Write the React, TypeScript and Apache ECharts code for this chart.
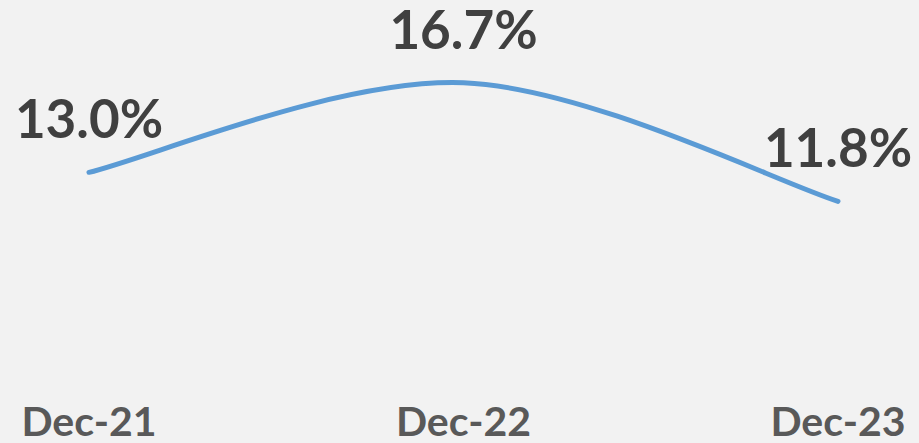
import React, { useEffect, useRef } from "react";
import * as echarts from "echarts";

const categories = ["Dec-21", "Dec-22", "Dec-23"];
const values = [13.0, 16.7, 11.8];

export default function App() {
  const ref = useRef<HTMLDivElement>(null);
  useEffect(() => {
    const chart = echarts.init(ref.current!, null, { renderer: "svg" });
    chart.setOption({
      animation: false,
      backgroundColor: "#f2f2f2",
      grid: { left: 89, right: 81, top: 3, bottom: 53 },
      xAxis: {
        type: "category",
        data: categories,
        boundaryGap: false,
        axisLine: { show: false },
        axisTick: { show: false },
        axisLabel: {
          color: "#595959",
          fontFamily: "Lato",
          fontWeight: "bold",
          fontSize: 41,
          lineHeight: 38,
          margin: 11,
        },
      },
      yAxis: {
        type: "value",
        min: 4,
        max: 20,
        show: false,
        splitLine: { show: false },
      },
      series: [
        {
          type: "custom",
          data: values.map((v, i) => [i, v]),
          encode: { x: 0, y: 1 },
          silent: true,
          renderItem: (params: any, api: any) => {
            if (params.dataIndex !== 0) return null;
            const pts = values.map((v, i) => api.coord([i, v]));
            const n = pts.length;
            const P = (k: number) => pts[Math.max(0, Math.min(n - 1, k))];
            let d = `M${pts[0][0]},${pts[0][1]}`;
            for (let i = 0; i < n - 1; i++) {
              const p0 = P(i - 1), p1 = P(i), p2 = P(i + 1), p3 = P(i + 2);
              const c1x = p1[0] + (p2[0] - p0[0]) / 6;
              const c1y = p1[1] + (p2[1] - p0[1]) / 6;
              const c2x = p2[0] - (p3[0] - p1[0]) / 6;
              const c2y = p2[1] - (p3[1] - p1[1]) / 6;
              d += ` C${c1x},${c1y} ${c2x},${c2y} ${p2[0]},${p2[1]}`;
            }
            return {
              type: "path",
              shape: { pathData: d },
              style: {
                stroke: "#5b9bd5",
                lineWidth: 5,
                fill: "none",
                lineCap: "round",
                lineJoin: "round",
              },
            };
          },
          z: 2,
        },
        {
          type: "line",
          data: values,
          symbol: "circle",
          symbolSize: 1,
          showSymbol: true,
          itemStyle: { color: "#5b9bd5", opacity: 0 },
          lineStyle: { opacity: 0, width: 0 },
          silent: true,
          label: {
            show: true,
            position: "top",
            distance: 32,
            formatter: (p: any) => Number(p.value).toFixed(1) + "%",
            color: "#404040",
            fontFamily: "Lato",
            fontWeight: "bold",
            fontSize: 53,
            lineHeight: 44,
            opacity: 1,
          },
          labelLayout: { hideOverlap: false },
          z: 3,
        },
      ],
    });
    return () => chart.dispose();
  }, []);
  return (
    <div
      ref={ref}
      style={{ width: 919, height: 443, position: "fixed", left: 0, top: 0 }}
    />
  );
}
